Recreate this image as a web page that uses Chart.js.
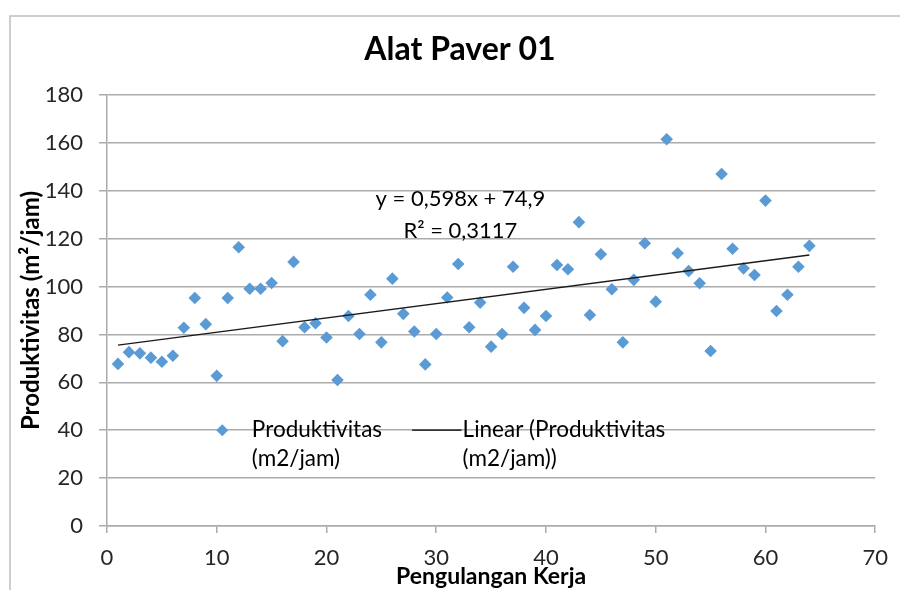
<!DOCTYPE html>
<html>
<head>
<meta charset="utf-8">
<title>Alat Paver 01</title>
<script src="https://cdn.jsdelivr.net/npm/chart.js@4/dist/chart.umd.min.js"></script>
<style>
  html, body { margin: 0; padding: 0; background: #ffffff; }
  #wrap { width: 900px; height: 590px; position: relative; }
</style>
</head>
<body>
<div id="wrap"><canvas id="chart" width="900" height="590"></canvas></div>
<script>
// Work cycle number (Pengulangan Kerja)
const runs = [
  1, 2, 3, 4, 5, 6, 7, 8, 9, 10,
  11, 12, 13, 14, 15, 16, 17, 18, 19, 20,
  21, 22, 23, 24, 25, 26, 27, 28, 29, 30,
  31, 32, 33, 34, 35, 36, 37, 38, 39, 40,
  41, 42, 43, 44, 45, 46, 47, 48, 49, 50,
  51, 52, 53, 54, 55, 56, 57, 58, 59, 60,
  61, 62, 63, 64
];

// Paver productivity per cycle, m2/jam
const productivity = [
  67.7, 72.6, 72.1, 70.3, 68.6, 71.1, 82.8, 95.2, 84.3, 62.7,
  95.2, 116.4, 99.1, 99.1, 101.5, 77.2, 110.3, 83.0, 84.7, 78.7,
  61.0, 87.7, 80.2, 96.6, 76.7, 103.3, 88.6, 81.2, 67.5, 80.2,
  95.4, 109.4, 83.0, 93.3, 74.9, 80.2, 108.3, 91.1, 81.9, 87.7,
  109.0, 107.2, 126.9, 88.1, 113.5, 98.9, 76.7, 102.8, 118.1, 93.7,
  161.5, 113.9, 106.5, 101.4, 73.1, 147.0, 115.8, 107.6, 104.8, 135.9,
  89.8, 96.6, 108.3, 117.0
];

// Linear trend line coefficients (y = slope * x + intercept) and fit quality
const trendSlope = 0.598;
const trendIntercept = 74.9;
const trendR2 = 0.3117;

// Axis ranges and tick steps
const xTicks = [0, 10, 20, 30, 40, 50, 60, 70];
const yTicks = [0, 20, 40, 60, 80, 100, 120, 140, 160, 180];

// Texts
const chartTitle = 'Alat Paver 01';
const xTitle = 'Pengulangan Kerja';
const yTitle = 'Produktivitas (m\u00B2/jam)';
const seriesLegend = ['Produktivitas', '(m2/jam)'];
const trendLegend = ['Linear (Produktivitas', '(m2/jam))'];
const fmt = (v, d) => v.toFixed(d).replace('.', ',');
const equationLines = [
  'y = ' + fmt(trendSlope, 3) + 'x + ' + fmt(trendIntercept, 1),
  'R\u00B2 = ' + fmt(trendR2, 4)
];

const BLUE = '#5B9BD5';
const GRID = '#ABABAB';
const TEXT = '#262626';
const FONT = 'Lato, "Open Sans", sans-serif';

const points = runs.map((r, i) => ({ x: r, y: productivity[i] }));
const firstRun = runs[0];
const lastRun = runs[runs.length - 1];
const trendPoints = [
  { x: firstRun, y: trendSlope * firstRun + trendIntercept },
  { x: lastRun, y: trendSlope * lastRun + trendIntercept }
];

// Frame, chart title, trend equation and the in-plot legend
const decorations = {
  id: 'decorations',
  beforeDraw(chart) {
    const ctx = chart.ctx;
    ctx.save();
    ctx.strokeStyle = '#BFBFBF';
    ctx.lineWidth = 1.5;
    ctx.beginPath();
    ctx.moveTo(10, 590);
    ctx.lineTo(10, 16);
    ctx.lineTo(900, 16);
    ctx.stroke();
    ctx.restore();
  },
  afterDraw(chart) {
    const ctx = chart.ctx;
    const xs = chart.scales.x, ys = chart.scales.y;
    ctx.save();
    // title
    ctx.fillStyle = '#000';
    ctx.font = 'bold 32px ' + FONT;
    ctx.textAlign = 'center';
    ctx.textBaseline = 'middle';
    ctx.fillText(chartTitle, 460, 50);

    // trend equation
    ctx.font = '22px ' + FONT;
    ctx.fillStyle = '#000';
    const ex = xs.getPixelForValue(32.2);
    ctx.fillText(equationLines[0], ex, ys.getPixelForValue(136.5));
    ctx.fillText(equationLines[1], ex, ys.getPixelForValue(123.3));

    // legend
    const ly = ys.getPixelForValue(40);
    const lh = 29;
    const mx = xs.getPixelForValue(10.5);
    ctx.fillStyle = BLUE;
    ctx.beginPath();
    ctx.moveTo(mx - 6, ly);
    ctx.lineTo(mx, ly - 6);
    ctx.lineTo(mx + 6, ly);
    ctx.lineTo(mx, ly + 6);
    ctx.closePath();
    ctx.fill();
    ctx.fillStyle = '#000';
    ctx.font = '22.5px ' + FONT;
    ctx.textAlign = 'left';
    const t1 = xs.getPixelForValue(13.2);
    ctx.fillText(seriesLegend[0], t1, ly);
    ctx.fillText(seriesLegend[1], t1, ly + lh);
    const l0 = xs.getPixelForValue(27.8), l1 = xs.getPixelForValue(32.3);
    ctx.strokeStyle = '#000';
    ctx.lineWidth = 1.3;
    ctx.beginPath();
    ctx.moveTo(l0, ly);
    ctx.lineTo(l1, ly);
    ctx.stroke();
    const t2 = xs.getPixelForValue(32.4);
    ctx.fillText(trendLegend[0], t2, ly);
    ctx.fillText(trendLegend[1], t2, ly + lh);
    ctx.restore();
  }
};

new Chart(document.getElementById('chart'), {
  type: 'scatter',
  data: {
    datasets: [
      {
        type: 'line',
        label: trendLegend.join(' '),
        data: trendPoints,
        borderColor: '#1a1a1a',
        borderWidth: 1.3,
        pointRadius: 0,
        fill: false,
        order: 0
      },
      {
        label: seriesLegend.join(' '),
        data: points,
        pointStyle: 'rectRot',
        pointRadius: 6.3,
        pointBackgroundColor: BLUE,
        pointBorderColor: BLUE,
        pointBorderWidth: 0,
        showLine: false,
        order: 1
      }
    ]
  },
  options: {
    responsive: false,
    animation: false,
    devicePixelRatio: 1,
    layout: { padding: { left: 0, right: 23, top: 95, bottom: 0 } },
    plugins: {
      legend: { display: false },
      title: { display: false },
      tooltip: { enabled: false }
    },
    scales: {
      x: {
        type: 'linear',
        min: xTicks[0],
        max: xTicks[xTicks.length - 1],
        afterBuildTicks(scale) { scale.ticks = xTicks.map(v => ({ value: v })); },
        afterFit(scale) { scale.height = 64; },
        grid: {
          drawOnChartArea: false,
          drawTicks: true,
          tickLength: 7,
          color: GRID,
          lineWidth: 1.5
        },
        border: { display: true, color: GRID, width: 1.5 },
        ticks: {
          color: TEXT,
          padding: 12,
          font: { family: FONT, size: 22 },
          maxRotation: 0
        },
        title: {
          display: true,
          text: xTitle,
          color: '#000',
          font: { family: FONT, size: 23, weight: 'bold' },
          padding: { top: 0, bottom: 0 }
        }
      },
      y: {
        type: 'linear',
        min: yTicks[0],
        max: yTicks[yTicks.length - 1],
        afterBuildTicks(scale) { scale.ticks = yTicks.map(v => ({ value: v })); },
        afterFit(scale) { scale.width = 107; },
        grid: {
          drawOnChartArea: true,
          drawTicks: true,
          tickLength: 8,
          color: GRID,
          lineWidth: 1.5
        },
        border: { display: true, color: GRID, width: 1.5 },
        ticks: {
          color: TEXT,
          padding: 16,
          font: { family: FONT, size: 22 }
        },
        title: {
          display: true,
          text: yTitle,
          color: '#000',
          font: { family: FONT, size: 24, weight: 'bold' },
          padding: { top: 17, bottom: 0 }
        }
      }
    }
  },
  plugins: [decorations]
});
</script>
</body>
</html>
